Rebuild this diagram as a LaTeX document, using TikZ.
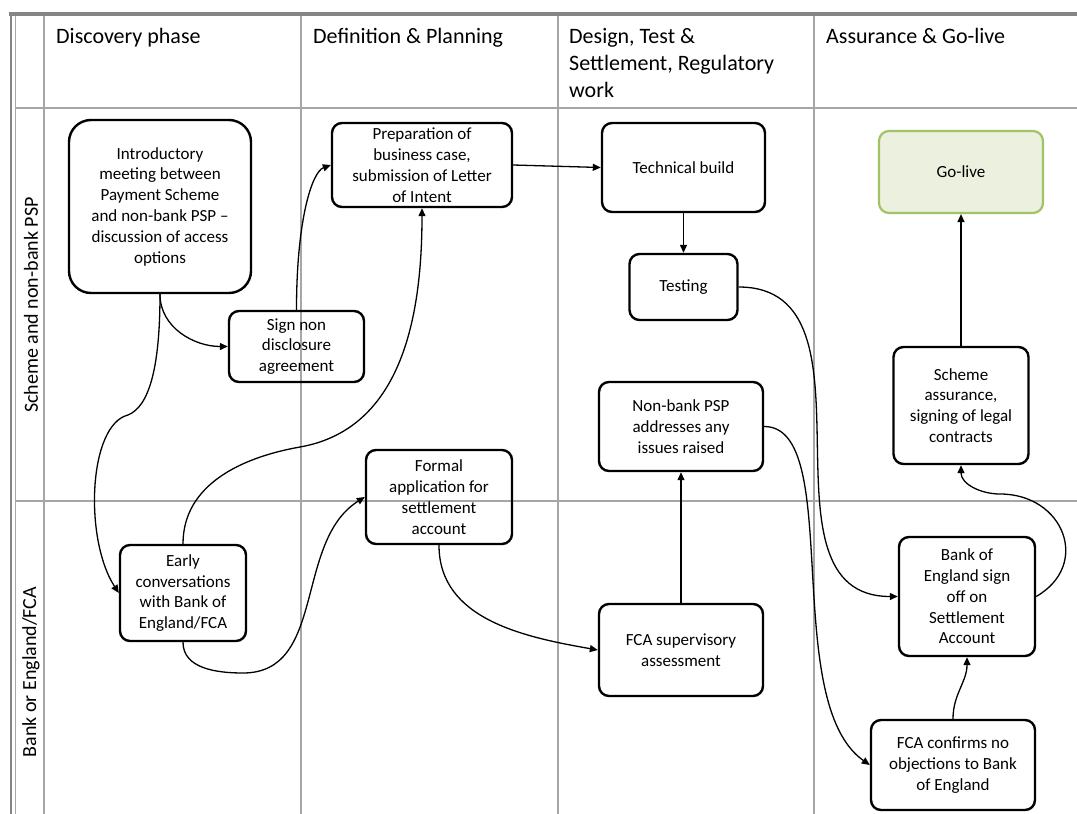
\documentclass[tikz,border=0pt]{standalone}
\usepackage{fontspec}
\setmainfont{Carlito}
\usepackage{tikz}
\usetikzlibrary{positioning, arrows.meta}
\usepackage{xcolor}
\definecolor{gridgray}{HTML}{A6A6A6}
\definecolor{framegray}{HTML}{858585}
\definecolor{golivefill}{HTML}{EBF1DE}
\definecolor{golivedraw}{HTML}{A2C266}

\begin{document}
\begin{tikzpicture}[
        x=1pt, y=1pt,
        >={Triangle[length=8pt,width=7pt]},
        on grid,
        task/.style={draw, line width=2.4pt, rounded corners=10pt, align=center,
            inner sep=2pt, font=\fontsize{17}{20.8}\selectfont},
        goal/.style={task, draw=golivedraw, fill=golivefill, line width=2.2pt},
        flow/.style={line width=1.3pt},
        lane/.style={draw=gridgray, line width=1.8pt},
        phase/.style={anchor=north west, inner sep=0pt, align=left,
            font=\fontsize{22}{27}\selectfont},
        swim/.style={rotate=90, inner sep=0pt, font=\fontsize{20}{24}\selectfont}
    ]

        \path[fill=white] (0,0) rectangle (1077,-814);
        \useasboundingbox (0,0) rectangle (1077,-814);

        % Frame and lanes
        \draw[framegray, line width=4pt] (9,-14) -- (1077,-14);
        \draw[framegray, line width=2.5pt] (11,-12) -- (11,-814);
        \draw[lane] (15.5,-16) -- (15.5,-814);
        \foreach \x in {44,301,558,814}
            \draw[lane] (\x,-16) -- (\x,-814);
        \foreach \y in {108,501}
            \draw[lane] (15.5,-\y) -- (1077,-\y);

        % Phases
        \node[phase] (H1) at (56,-28) {Discovery phase};
        \node[phase] (H2) at (313,-28) {Definition \& Planning};
        \node[phase] (H3) at (569,-28) {Design, Test \&\\Settlement, Regulatory\\work};
        \node[phase] (H4) at (826,-28) {Assurance \& Go-live};

        % Swimlanes
        \node[swim] (L1) at (31,-305) {Scheme and non-bank PSP};
        \node[swim] (L2) at (31,-672) {Bank or England/FCA};

        % Tasks
        \node[task, minimum width=182pt, minimum height=173pt, rounded corners=22pt]
            (IM) at (160,-206.5) {Introductory\\meeting between\\Payment Scheme\\and non-bank PSP –\\discussion of access\\options};
        \node[task, minimum width=135pt, minimum height=71pt]
            (ND) at (296.5,-346.5) {Sign non\\disclosure\\agreement};
        \node[task, minimum width=180pt, minimum height=84pt]
            (PB) at (422,-165) {Preparation of\\business case,\\submission of Letter\\of Intent};
        \node[task, minimum width=163pt, minimum height=89pt]
            (TB) at (683.5,-167.5) {Technical build};
        \node[task, minimum width=108pt, minimum height=66pt, below=119.5pt of TB]
            (TS) {Testing};
        \node[task, minimum width=164pt, minimum height=89pt]
            (IR) at (681,-426.5) {Non-bank PSP\\addresses any\\issues raised};
        \node[task, minimum width=146pt, minimum height=94pt]
            (FA) at (439,-497) {Formal\\application for\\settlement\\account};
        \node[task, minimum width=126pt, minimum height=96pt]
            (EC) at (183,-593) {Early\\conversations\\with Bank of\\England/FCA};
        \node[task, minimum width=164pt, minimum height=92pt, below=223.5pt of IR]
            (FS) {FCA supervisory\\assessment};
        \node[task, minimum width=136pt, minimum height=119pt]
            (BE) at (967,-596.5) {Bank of\\England sign\\off on\\Settlement\\Account};
        \node[task, minimum width=164pt, minimum height=90pt]
            (FC) at (953,-765) {FCA confirms no\\objections to Bank\\of England};
        \node[goal, minimum width=164pt, minimum height=82pt]
            (GL) at (961,-172) {Go-live};
        \node[task, minimum width=135pt, minimum height=117pt, below=233.5pt of GL]
            (SA) {Scheme\\assurance,\\signing of legal\\contracts};

        % Bends
        \coordinate (k1) at (128,-415);
        \coordinate (k2) at (300,-447);
        \coordinate (k3) at (243,-673);
        \coordinate (k4) at (1000,-494);

        % Scheme lane
        \path[flow, ->]
            (IM.south) edge[out=-90, in=180] (ND.west)
            (ND.north) edge[out=90, in=200, out distance=90pt, in distance=20pt] (PB.west)
            (PB.east)  edge (TB.west)
            (TB)       edge (TS)
            (SA)       edge (GL);

        % Between the lanes
        \draw[flow, ->] (IM.south) to[out=-90, in=22, out distance=76pt, in distance=22pt] (k1)
            to[out=194, in=123, out distance=41pt, in distance=64pt] (EC.west);
        \draw[flow, ->] (EC.north) to[out=90, in=190] (k2) to[out=10, in=-90] (PB.south);
        \draw[flow, ->] (EC.south) to[out=-90, in=180] (k3) to[out=0, in=212] (FA.west);
        \path[flow, ->]
            (FA.south) edge[out=-90, in=170] (FS.west)
            (FS)       edge (IR);

        % Sign off and assurance
        \path[flow, ->]
            (TS.east)  edge[out=0, in=180, looseness=1.1] (BE.west)
            (IR.east)  edge[out=0, in=145, out distance=80pt, in distance=110pt] (FC.west)
            (FC.north) edge[out=90, in=-90] (BE.south);
        \draw[flow, ->] (BE.east) to[out=30, in=0, looseness=1.5] (k4)
            to[out=180, in=-90] (SA.south);

    \end{tikzpicture}
\end{document}
